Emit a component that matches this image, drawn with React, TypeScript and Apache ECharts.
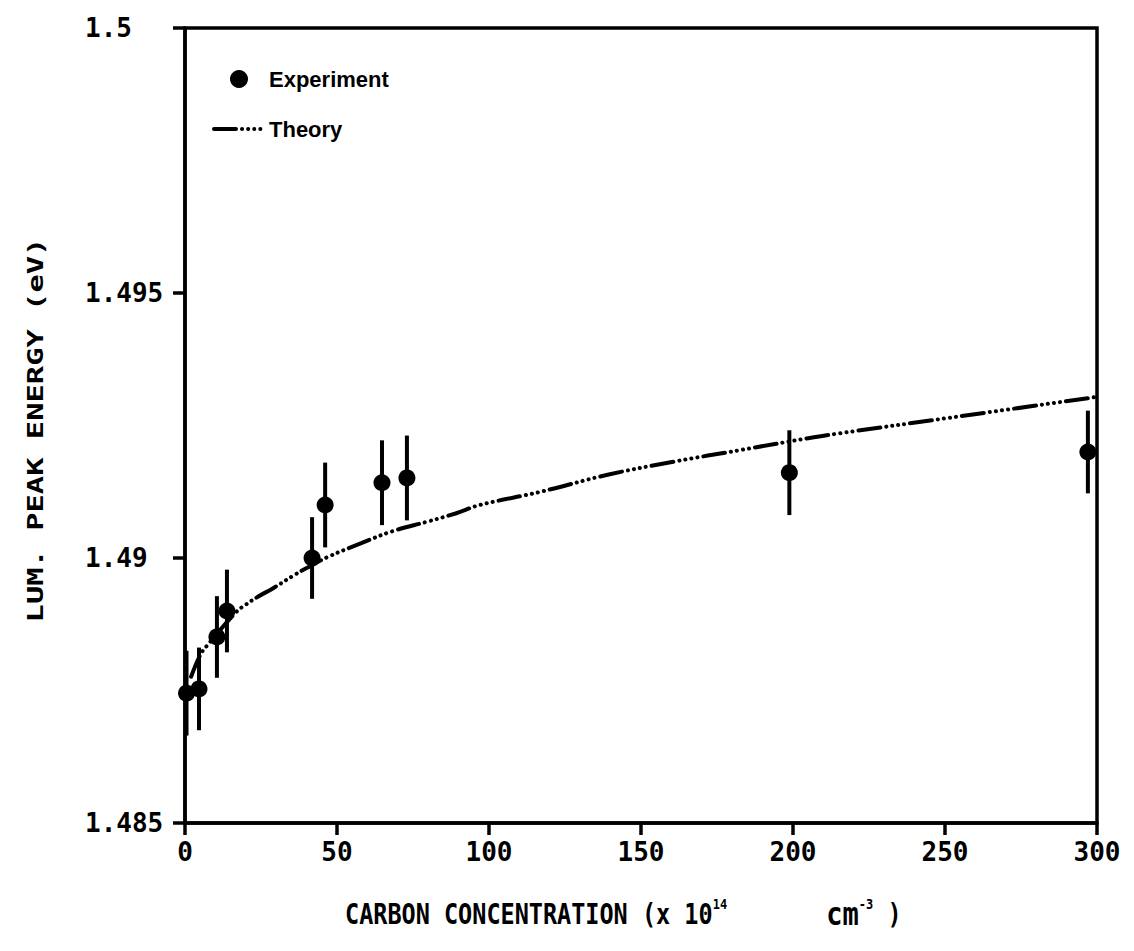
import React, { useEffect, useRef } from 'react';
import * as echarts from 'echarts';

// Measured luminescence peak energy vs. carbon concentration (x 10^14 cm^-3)
const concentration = [0.5, 4.6, 10.5, 13.8, 41.8, 46.1, 64.8, 73.0, 198.8, 297.0];
const peakEnergy = [1.48745, 1.48753, 1.48851, 1.489, 1.49, 1.4910, 1.49142, 1.49151, 1.49161, 1.4920];
const energyError = [0.0008, 0.00078, 0.00077, 0.00078, 0.00077, 0.0008, 0.0008, 0.0008, 0.0008, 0.00078];

// Calculated curve
const theoryConcentration = [2, 5, 7, 17, 20, 24, 29, 36, 40, 47, 58, 68, 80, 89, 97, 117, 139, 161, 183, 205, 215, 252, 300];
const theoryEnergy = [
  1.48776, 1.48817, 1.48833, 1.48899, 1.48912, 1.48927, 1.48943, 1.48968, 1.48981, 1.49002,
  1.49028, 1.4905, 1.49069, 1.49084, 1.491, 1.49125, 1.49157, 1.49182, 1.49204, 1.49226,
  1.49235, 1.49265, 1.49304,
];

const xTicks = [0, 50, 100, 150, 200, 250, 300];
const xTickLabels = ['0', '50', '100', '150', '200', '250', '300'];
const yTicks = [1.485, 1.49, 1.495, 1.5];
const yTickLabels = ['1.485', '1.49', '1.495', '1.5'];

const MONO = 'DejaVu Sans Mono';
const THEORY_DASH = [22, 6, 0.1, 6, 0.1, 6, 0.1, 6, 0.1, 6];

export default function App() {
  const ref = useRef<HTMLDivElement>(null);

  useEffect(() => {
    if (!ref.current) return;
    const chart = echarts.init(ref.current, null, { renderer: 'svg' });

    const points = concentration.map((c, i) => [c, peakEnergy[i]]);
    const bars = concentration.map((c, i) => [c, peakEnergy[i], energyError[i]]);
    const theory = theoryConcentration.map((c, i) => [c, theoryEnergy[i]]);

    chart.setOption({
      animation: false,
      backgroundColor: '#fff',
      grid: {
        left: 185,
        right: 37,
        top: 28,
        bottom: 128,
        show: true,
        borderColor: '#000',
        borderWidth: 3.5,
        backgroundColor: 'transparent',
      },
      legend: {
        orient: 'vertical',
        left: 207,
        top: 63,
        itemWidth: 50,
        itemHeight: 18,
        itemGap: 28,
        selectedMode: false,
        textStyle: {
          fontFamily: 'Liberation Sans',
          fontWeight: 'bold',
          fontSize: 22,
          color: '#000',
        },
        data: [
          { name: 'Experiment', icon: 'circle', itemStyle: { color: '#000', opacity: 1 } },
          {
            name: 'Theory',
            itemStyle: { opacity: 0 },
            lineStyle: { color: '#000', width: 4, cap: 'round', type: THEORY_DASH, opacity: 1 },
          },
        ],
      },
      xAxis: {
        type: 'value',
        min: 0,
        max: 300,
        interval: 50,
        axisLine: { show: true, lineStyle: { color: '#000', width: 3.5 } },
        axisTick: { show: true, inside: false, length: 12, lineStyle: { color: '#000', width: 3.5 } },
        splitLine: { show: false },
        axisLabel: {
          margin: 16,
          fontFamily: MONO,
          fontWeight: 'bold',
          fontSize: 26,
          color: '#000',
          formatter: (v: number) => {
            const i = xTicks.findIndex((t) => Math.abs(t - v) < 1e-6);
            return i >= 0 ? xTickLabels[i] : '';
          },
        },
      },
      yAxis: {
        type: 'value',
        min: 1.485,
        max: 1.5,
        interval: 0.005,
        axisLine: { show: true, lineStyle: { color: '#000', width: 3.5 } },
        axisTick: { show: true, inside: false, length: 12, lineStyle: { color: '#000', width: 3.5 } },
        splitLine: { show: false },
        axisLabel: {
          margin: 100,
          align: 'left',
          fontFamily: MONO,
          fontWeight: 'bold',
          fontSize: 26,
          color: '#000',
          formatter: (v: number) => {
            const i = yTicks.findIndex((t) => Math.abs(t - v) < 1e-7);
            return i >= 0 ? yTickLabels[i] : '';
          },
        },
      },
      series: [
        {
          name: 'Experiment',
          type: 'scatter',
          data: points,
          symbol: 'circle',
          symbolSize: 17,
          itemStyle: { color: '#000', opacity: 1 },
          z: 4,
        },
        {
          name: 'Experiment',
          type: 'custom',
          data: bars,
          encode: { x: 0, y: 1 },
          z: 3,
          renderItem: (params: any, api: any) => {
            const x = api.value(0);
            const y = api.value(1);
            const e = api.value(2);
            const top = api.coord([x, y + e]);
            const bot = api.coord([x, y - e]);
            return {
              type: 'line',
              shape: { x1: top[0], y1: top[1], x2: bot[0], y2: bot[1] },
              style: { stroke: '#000', lineWidth: 4 },
            };
          },
        },
        {
          name: 'Theory',
          type: 'line',
          data: theory,
          smooth: 0.4,
          showSymbol: false,
          symbol: 'none',
          lineStyle: {
            color: '#000',
            width: 4,
            cap: 'round',
            type: THEORY_DASH,
          },
          itemStyle: { color: '#000' },
          z: 2,
        },
      ],
      graphic: [
        {
          type: 'text',
          x: 36,
          y: 430,
          rotation: Math.PI / 2,
          scaleX: 1.45,
          style: {
            text: 'LUM. PEAK ENERGY (eV)',
            fontFamily: MONO,
            fontWeight: 'bold',
            fontSize: 21,
            fill: '#000',
            align: 'center',
            verticalAlign: 'middle',
          },
        },
        {
          type: 'text',
          x: 345,
          y: 914,
          scaleY: 1.2,
          style: {
            text: '{n|CARBON CONCENTRATION (x 10}{s|14}{n|       }{c|cm}{s|-3}{n| )}',
            fill: '#000',
            align: 'left',
            verticalAlign: 'middle',
            rich: {
              n: { fontFamily: MONO, fontWeight: 'bold', fontSize: 23.5, lineHeight: 28, fill: '#000' },
              c: { fontFamily: MONO, fontWeight: 'bold', fontSize: 27, lineHeight: 28, fill: '#000' },
              s: { fontFamily: MONO, fontWeight: 'bold', fontSize: 12, lineHeight: 12, verticalAlign: 'top', fill: '#000' },
            },
          },
        },
      ],
    });

    return () => chart.dispose();
  }, []);

  return (
    <div
      ref={ref}
      style={{ position: 'fixed', left: 0, top: 0, width: 1134, height: 951, background: '#fff' }}
    />
  );
}
